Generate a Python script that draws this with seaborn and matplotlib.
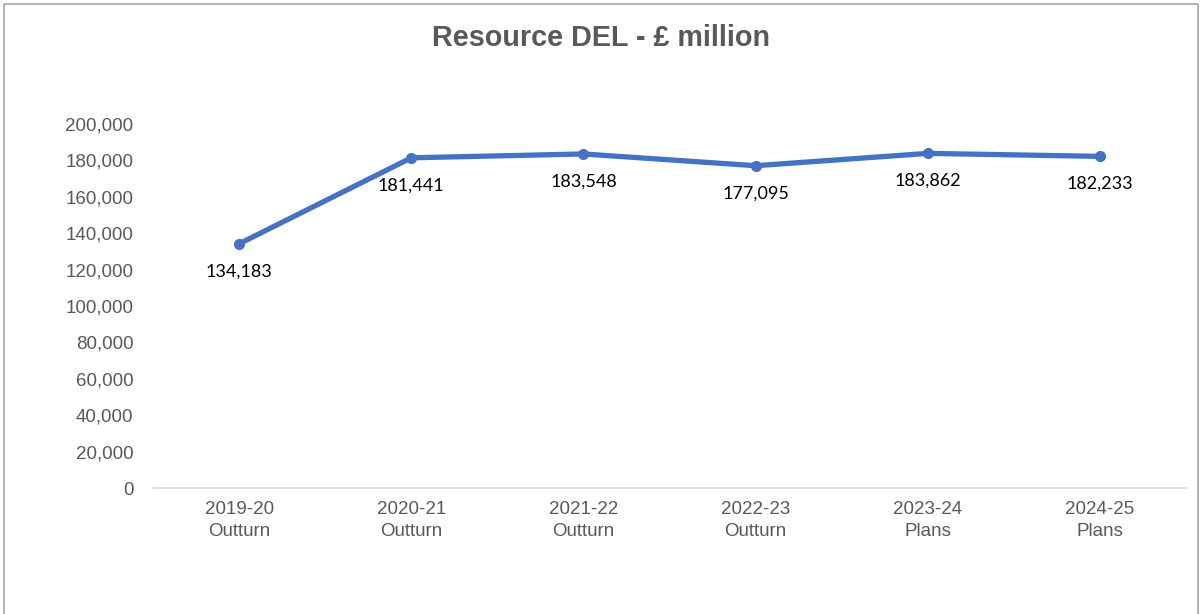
import matplotlib
matplotlib.use("Agg")
import matplotlib.pyplot as plt
import seaborn as sns
import pandas as pd
from matplotlib.patches import Rectangle
from matplotlib.ticker import FuncFormatter

years = ["2019-20", "2020-21", "2021-22", "2022-23", "2023-24", "2024-25"]
stages = ["Outturn", "Outturn", "Outturn", "Outturn", "Plans", "Plans"]
values = [134183, 181441, 183548, 177095, 183862, 182233]
yticks = [0, 20000, 40000, 60000, 80000, 100000, 120000, 140000, 160000, 180000, 200000]

labels = [f"{y}\n{s}" for y, s in zip(years, stages)]
df = pd.DataFrame({"period": labels, "value": values})

sns.set_theme(style="white")
plt.rcParams["font.family"] = ["Liberation Sans", "DejaVu Sans"]

fig = plt.figure(figsize=(12.02, 6.14), dpi=100)
ax = fig.add_axes([0.1273, 0.2052, 0.8594, 0.5928])

line_color = "#4472C4"
sns.lineplot(data=df, x="period", y="value", ax=ax, color=line_color, lw=3.8,
             marker="o", markersize=8, markeredgewidth=0, sort=False)

ax.set_xlim(-0.5, len(values) - 0.5)
ax.set_ylim(0, 200000)
ax.set_yticks(yticks)
ax.yaxis.set_major_formatter(FuncFormatter(lambda v, p: f"{int(v):,}"))
ax.tick_params(axis="both", length=0, labelsize=13.5, labelcolor="#595959")
ax.tick_params(axis="y", pad=14)
ax.tick_params(axis="x", pad=9)
for lbl in ax.get_xticklabels():
    lbl.set_linespacing(1.4)
ax.set_xlabel("")
ax.set_ylabel("")

for side in ["left", "right", "top"]:
    ax.spines[side].set_visible(False)
ax.spines["bottom"].set_color("#D9D9D9")
ax.spines["bottom"].set_linewidth(1.2)

for i, v in enumerate(values):
    ax.annotate(f"{v:,}", xy=(i, v), xytext=(0, -14), textcoords="offset points",
                ha="center", va="top", fontsize=13, color="black",
                family=["Lato", "DejaVu Sans"])

fig.text(0.5, 0.938, "Resource DEL - £ million", ha="center", va="center",
         fontsize=20.7, fontweight="bold", color="#595959")

fig.patches.append(Rectangle((4 / 1202, -0.05), 1194 / 1202, 1.05 - 4 / 614,
                             transform=fig.transFigure, fill=False,
                             edgecolor="#A6A6A6", linewidth=1.2))

fig.savefig("out.png", dpi=100, facecolor="white")
